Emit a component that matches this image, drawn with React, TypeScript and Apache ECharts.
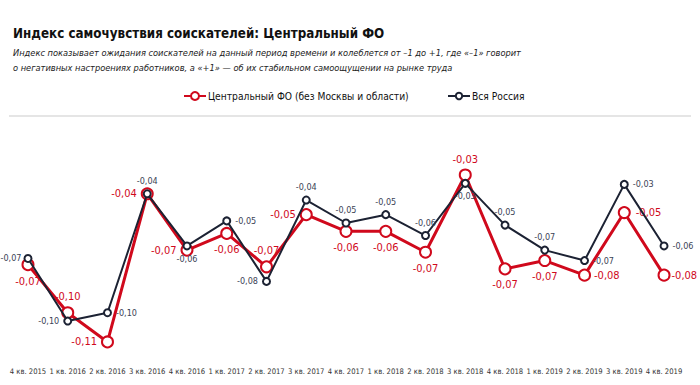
import React, { useEffect, useRef } from "react";
import * as echarts from "echarts";

const categories = [
  "4 кв. 2015", "1 кв. 2016", "2 кв. 2016", "3 кв. 2016", "4 кв. 2016",
  "1 кв. 2017", "2 кв. 2017", "3 кв. 2017", "4 кв. 2017", "1 кв. 2018",
  "2 кв. 2018", "3 кв. 2018", "4 кв. 2018", "1 кв. 2019", "2 кв. 2019",
  "3 кв. 2019", "4 кв. 2019",
];

const centralValues = [
  -0.073, -0.096, -0.11, -0.039, -0.066, -0.058, -0.074, -0.049, -0.057,
  -0.057, -0.067, -0.03, -0.075, -0.071, -0.078, -0.048, -0.078,
];

const russiaValues = [
  -0.07, -0.1, -0.096, -0.039, -0.064, -0.052, -0.081, -0.042, -0.053,
  -0.049, -0.059, -0.034, -0.054, -0.066, -0.071, -0.0345, -0.064,
];

const seriesNames = ["Центральный ФО (без Москвы и области)", "Вся Россия"];

const titleText = "Индекс самочувствия соискателей: Центральный ФО";
const subtitleText =
  "Индекс показывает ожидания соискателей на данный период времени и колеблется от –1 до +1, где «–1» говорит\nо негативных настроениях работников, а «+1» — об их стабильном самоощущении на рынке труда";

// label placement (layout only)
const centralLabelPos = [
  "bottom", "top", "left", "left", "left", "bottom", "top", "left", "bottom",
  "bottom", "bottom", "top", "bottom", "bottom", "right", "right", "right",
];
const centralLabelDist = [5, 4, 4, 4, 4, 4, 4, 4, 4, 4, 4, 4, 4, 4, 3, 5, 1];
const russiaLabelPos = [
  "left", "left", "right", "top", "bottom", "right", "left", "top", "top",
  "top", "top", "bottom", "top", "top", "right", "right", "right",
];
const russiaLabelDist = [2, 4, 4, 4, 4, 4, 4, 4, 4, 4, 4, 4, 4, 4, 4, 4, 4];

const FONT = "'DejaVu Sans Condensed', 'Roboto', sans-serif";
const RED = "#d0091c";
const NAVY = "#1c2233";

const fmt = (v: number) => (Math.round(v * 100) / 100).toFixed(2).replace(".", ",");

export default function App() {
  const ref = useRef<HTMLDivElement>(null);
  useEffect(() => {
    document.body.style.margin = "0";
    if (!ref.current) return;
    const chart = echarts.init(ref.current, undefined, { renderer: "svg" });
    chart.setOption({
      animation: false,
      backgroundColor: "#ffffff",
      textStyle: { fontFamily: FONT },
      title: [
        {
          text: titleText,
          left: 8,
          top: 20,
          textStyle: { fontFamily: FONT, fontWeight: "bold", fontSize: 13.3, lineHeight: 16, color: "#111111" },
        },
        {
          text: subtitleText,
          left: 8,
          top: 40,
          textStyle: {
            fontFamily: FONT,
            fontStyle: "italic",
            fontWeight: "normal",
            fontSize: 9.2,
            lineHeight: 15,
            color: "#222222",
          },
        },
      ],
      legend: [
        {
          data: [seriesNames[0]],
          left: 178,
          top: 86,
          itemWidth: 22,
          itemHeight: 10,
          textStyle: { fontFamily: FONT, fontSize: 10.2, color: "#111", padding: [0, 0, 0, -3] },
        },
        {
          data: [seriesNames[1]],
          left: 442,
          top: 86,
          itemWidth: 22,
          itemHeight: 8,
          textStyle: { fontFamily: FONT, fontSize: 10.2, color: "#111", padding: [0, 0, 0, -3] },
        },
      ],
      graphic: [
        {
          type: "line",
          shape: { x1: 9, y1: 116, x2: 691, y2: 116 },
          style: { stroke: "#dcdcdc", lineWidth: 1.5 },
        },
      ],
      grid: { left: 8.1, right: 16.1, top: 112.4, bottom: 22.2 },
      xAxis: {
        type: "category",
        data: categories,
        boundaryGap: true,
        axisLine: { show: false },
        axisTick: { show: false },
        axisLabel: { interval: 0, fontSize: 7.6, margin: 5, color: "#333", fontFamily: FONT },
      },
      yAxis: {
        type: "value",
        min: -0.12,
        max: 0,
        show: false,
        splitLine: { show: false },
      },
      series: [
        {
          name: seriesNames[0],
          type: "line",
          data: centralValues.map((v, i) => ({
            value: v,
            label: { position: centralLabelPos[i], distance: centralLabelDist[i] },
          })),
          symbol: "emptyCircle",
          symbolSize: 11,
          lineStyle: { color: RED, width: 3 },
          itemStyle: { color: RED, borderColor: RED, borderWidth: 2.5 },
          label: {
            show: true,
            fontFamily: FONT,
            fontSize: 11,
            color: RED,
            formatter: (p: any) => fmt(p.value),
          },
          z: 2,
        },
        {
          name: seriesNames[1],
          type: "line",
          data: russiaValues.map((v, i) => ({
            value: v,
            label: { position: russiaLabelPos[i], distance: russiaLabelDist[i] },
          })),
          symbol: "emptyCircle",
          symbolSize: 7,
          lineStyle: { color: NAVY, width: 2 },
          itemStyle: { color: NAVY, borderColor: NAVY, borderWidth: 1.6 },
          label: {
            show: true,
            fontFamily: FONT,
            fontSize: 9,
            color: "#3b4356",
            formatter: (p: any) => fmt(p.value),
          },
          z: 3,
        },
      ],
    });
    return () => chart.dispose();
  }, []);
  return <div ref={ref} style={{ width: 700, height: 385 }} />;
}
